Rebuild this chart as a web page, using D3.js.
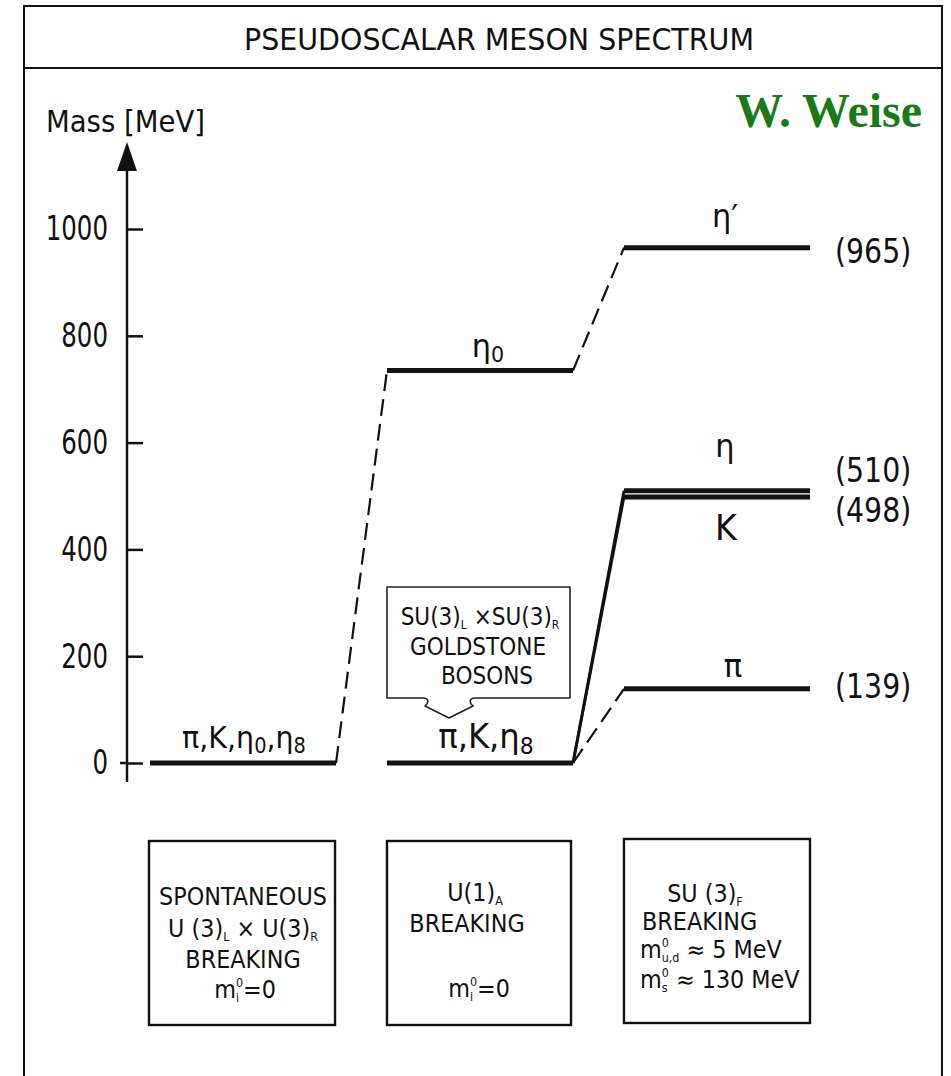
<!DOCTYPE html>
<html>
<head>
<meta charset="utf-8">
<script src="https://cdn.jsdelivr.net/npm/d3@7"></script>
<style>
  html, body { margin: 0; padding: 0; background: #fff; }
  svg { display: block; }
  text { font-family: "DejaVu Sans", "Noto Sans", sans-serif; fill: #111; }
</style>
</head>
<body>
<svg id="chart" width="951" height="1076"></svg>
<script>
// ---- data ----
const massTicks = [0, 200, 400, 600, 800, 1000];

const stageTitles = [
  ["SPONTANEOUS", "U (3)_{L} × U(3)_{R}", "BREAKING", "m^{0}_{i}=0"],
  ["U(1)_{A}", "BREAKING", "", "m^{0}_{i}=0"],
  ["SU (3)_{F}", "BREAKING", "m^{0}_{u,d} ≈ 5 MeV", "m^{0}_{s} ≈ 130 MeV"]
];

const levelNames = ["π,K,η_{0},η_{8}", "η_{0}", "π,K,η_{8}", "η′", "η", "K", "π"];
const levelStage = [0, 1, 1, 2, 2, 2, 2];
const levelMass  = [0, 735, 0, 965, 510, 498, 139];
const massLabels = ["", "", "", "(965)", "(510)", "(498)", "(139)"];

const transitionFrom   = [0, 1, 2, 2, 2];
const transitionTo     = [1, 3, 4, 5, 6];
const transitionDashed = [true, true, false, false, true];

const calloutLines = ["SU(3)_{L} ×SU(3)_{R}", "GOLDSTONE", "BOSONS"];

// ---- layout ----
const W = 951, H = 1076;
const svg = d3.select("#chart");
const ink = "#111";

const y = d3.scaleLinear().domain([0, 1000]).range([763, 229]);
const x = d3.scaleBand().domain(d3.range(stageTitles.length)).range([150, 810]).paddingInner(0.215);

// Text with _{sub} / ^{sup} markup; a sup directly followed by a sub is stacked.
// The whole string is squeezed horizontally by sx to get the narrow lettering.
function rich(parent, str, px, py, size, anchor, sx, scriptScale) {
  const ss = scriptScale || 0.5;
  const g = parent.append("g").attr("transform", `translate(${px},${py}) scale(${sx || 1},1)`);
  const t = g.append("text")
    .attr("x", 0).attr("y", 0)
    .attr("font-size", size)
    .attr("text-anchor", anchor || "middle");
  const tokens = str.split(/(\^\{[^}]*\}|_\{[^}]*\})/).filter(s => s.length);
  let cur = 0, lastSup = null, pendingDx = 0;
  tokens.forEach(tok => {
    let off = 0, fs = size, txt = tok, dx = pendingDx;
    pendingDx = 0;
    const isSup = tok.startsWith("^{"), isSub = tok.startsWith("_{");
    if (isSup) { off = -0.46 * size; fs = ss * size; txt = tok.slice(2, -1); }
    else if (isSub) { off = 0.17 * size; fs = ss * size; txt = tok.slice(2, -1); }
    const sp = t.append("tspan").attr("dy", off - cur).attr("font-size", fs).text(txt);
    if (isSub && lastSup) {
      const supLen = lastSup.node().getComputedTextLength();
      sp.attr("dx", -supLen);
      const subLen = sp.node().getComputedTextLength();
      pendingDx = Math.max(0, supLen - subLen);
    } else if (dx) sp.attr("dx", dx);
    cur = off;
    lastSup = isSup ? sp : null;
  });
  return g;
}

// ---- frame and title ----
const frame = svg.append("g").attr("fill", "none").attr("stroke", ink).attr("stroke-width", 2);
frame.append("path").attr("d", `M24,${H} L24,6 L942,6 L942,${H}`);
frame.append("line").attr("x1", 24).attr("x2", 942).attr("y1", 68).attr("y2", 68);

svg.append("text")
  .attr("x", 499).attr("y", 50)
  .attr("text-anchor", "middle")
  .attr("font-size", 30)
  .attr("textLength", 510).attr("lengthAdjust", "spacingAndGlyphs")
  .text("PSEUDOSCALAR MESON SPECTRUM");

svg.append("text")
  .attr("x", 922).attr("y", 127)
  .attr("text-anchor", "end")
  .style("font-family", '"Liberation Serif", "DejaVu Serif", serif')
  .style("font-weight", "bold")
  .style("fill", "#1a7a1a")
  .attr("font-size", 48)
  .text("W. Weise");

// ---- mass axis ----
const tickSx = 0.72;
const axisG = svg.append("g").attr("transform", "translate(127,0)");
axisG.call(d3.axisLeft(y).tickValues(massTicks).tickFormat(d3.format("d"))
  .tickSizeInner(-16).tickSizeOuter(0).tickPadding(19));
axisG.select(".domain").remove();
axisG.selectAll(".tick line").attr("stroke", ink).attr("stroke-width", 2.5);
axisG.selectAll(".tick text")
  .attr("font-size", 34)
  .attr("x", -19 / tickSx)
  .attr("transform", `scale(${tickSx},1)`)
  .attr("fill", ink);
axisG.append("line").attr("x1", -7).attr("x2", 0).attr("y1", y(0)).attr("y2", y(0))
  .attr("stroke", ink).attr("stroke-width", 2.5);
axisG.append("line").attr("x1", 0).attr("x2", 0).attr("y1", y(0) + 19).attr("y2", 160)
  .attr("stroke", ink).attr("stroke-width", 2.5);
axisG.append("path").attr("d", "M0,142 L-10,171 L10,171 Z").attr("fill", ink);

svg.append("text")
  .attr("x", 46).attr("y", 132)
  .attr("font-size", 31)
  .attr("textLength", 159).attr("lengthAdjust", "spacingAndGlyphs")
  .text("Mass [MeV]");

// ---- transitions between stages ----
const levelX0 = i => x(levelStage[i]);
const levelX1 = i => x(levelStage[i]) + x.bandwidth();

svg.append("g").selectAll("line")
  .data(transitionFrom.map((f, k) => ({ f, t: transitionTo[k], dashed: transitionDashed[k] })))
  .join("line")
  .attr("x1", d => levelX1(d.f)).attr("y1", d => y(levelMass[d.f]))
  .attr("x2", d => levelX0(d.t)).attr("y2", d => y(levelMass[d.t]))
  .attr("stroke", ink)
  .attr("stroke-width", d => d.dashed ? 2.2 : 2.8)
  .attr("stroke-dasharray", d => d.dashed ? "17,8" : null);

// ---- energy levels ----
svg.append("g").selectAll("line")
  .data(levelMass.map((m, i) => i))
  .join("line")
  .attr("x1", i => levelX0(i)).attr("x2", i => levelX1(i))
  .attr("y1", i => y(levelMass[i])).attr("y2", i => y(levelMass[i]))
  .attr("stroke", ink).attr("stroke-width", 5)
  .attr("stroke-linecap", "butt");

// level names: offset from the level line and from the band centre
const nameDy = [-15, -14, -15, -21, -34, 43, -12];
const nameDx = [1, 8, 6, 8, 8, 9, 16];
const nameSize = [30, 32, 34, 32, 32, 35, 32];
const namesG = svg.append("g");
levelNames.forEach((n, i) => {
  const cx = levelX0(i) + x.bandwidth() / 2 + nameDx[i];
  rich(namesG, n, cx, y(levelMass[i]) + nameDy[i], nameSize[i], "middle", 0.95, 0.68);
});

// measured masses on the right
const valueDy = [0, 0, 0, 15, -9, 25, 9];
const valuesG = svg.append("g");
massLabels.forEach((l, i) => {
  if (!l) return;
  rich(valuesG, l, 835, y(levelMass[i]) + valueDy[i], 33, "start", 0.86);
});

// ---- Goldstone boson callout ----
const bx0 = x(1), bx1 = x(1) + 183, by0 = 587, by1 = 698;
svg.append("path")
  .attr("d", `M${bx0},${by1} L${bx0},${by0} L${bx1},${by0} L${bx1},${by1} L475,${by1}
              C469,${by1} 469,${by1 + 5} 473,${by1 + 8} L449,${by1 + 20} L425,${by1 + 8}
              C429,${by1 + 5} 429,${by1} 423,${by1} Z`)
  .attr("fill", "none").attr("stroke", "#222").attr("stroke-width", 1.6)
  .attr("stroke-linejoin", "round");
const calloutG = svg.append("g");
calloutLines.forEach((s, k) => {
  rich(calloutG, s, [480, 478, 487][k], [625, 655, 684][k], 24, "middle", 0.9);
});

// ---- mechanism boxes under each stage ----
const boxesG = svg.append("g");
const boxY0 = 841, boxY1 = 1025;
stageTitles.forEach((lines, s) => {
  boxesG.append("rect")
    .attr("x", x(s) - (s === 0 ? 1 : 0)).attr("y", boxY0 - (s === 2 ? 2 : 0))
    .attr("width", x.bandwidth() - (s === 1 ? 2 : 0)).attr("height", boxY1 - boxY0)
    .attr("fill", "none").attr("stroke", ink).attr("stroke-width", 2.4);
});
// text rows inside each box
const rowsY = [
  [905, 937, 968, 998],
  [901, 932, 0, 997],
  [902, 930, 958, 988]
];
const rowsX = [
  [243, 243, 243, 245],
  [475, 467, 0, 479],
  [705, 642, 640, 640]
];
const rowsAnchor = [
  ["middle", "middle", "middle", "middle"],
  ["middle", "middle", "middle", "middle"],
  ["middle", "start", "start", "start"]
];
stageTitles.forEach((lines, s) => {
  lines.forEach((ln, r) => {
    if (!ln) return;
    rich(boxesG, ln, rowsX[s][r], rowsY[s][r], 24, rowsAnchor[s][r], 0.93);
  });
});
</script>
</body>
</html>
